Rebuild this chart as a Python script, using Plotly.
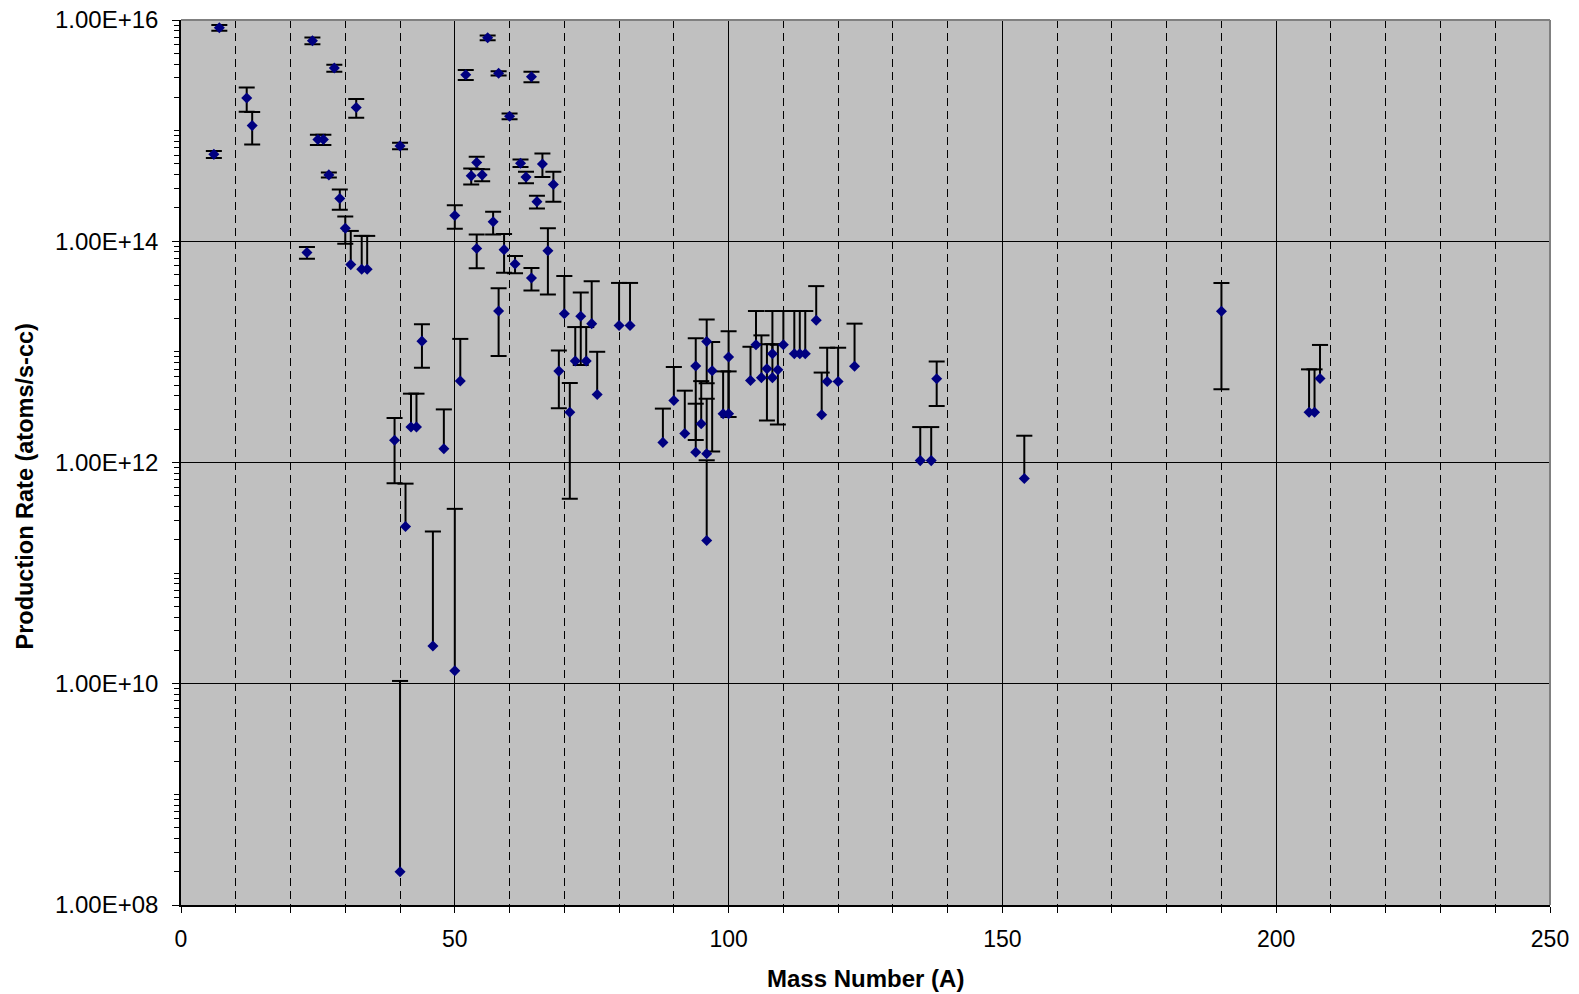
import plotly.graph_objects as go

# ---- data ----
mass = [6, 7, 12, 13, 23, 24, 25, 26, 27, 28, 29, 30, 31, 32, 33, 34,
        39, 40, 40, 41, 42, 43, 44, 46, 48, 50, 50, 51, 52, 53, 54, 54, 55, 56, 57, 58, 58, 59, 60,
        61, 62, 63, 64, 64, 65, 66, 67, 68, 69, 70, 71, 72, 73, 74, 75, 76, 80, 82,
        88, 90, 92, 94, 94, 95, 96, 96, 96, 97, 99, 100, 100,
        104, 105, 106, 107, 108, 108, 109, 110, 112, 113, 114, 116, 117, 118, 120, 123,
        135, 137, 138, 154, 190, 206, 207, 208]

rate = [6.1e14, 8.5e15, 1.97e15, 1.11e15, 7.9e13, 6.5e15, 8.3e14, 8.3e14, 3.98e14, 3.68e15, 2.43e14, 1.31e14, 6.15e13, 1.62e15, 5.58e13, 5.58e13,
        1.59e12, 7.28e14, 2.0e8, 2.64e11, 2.09e12, 2.09e12, 1.25e13, 2.19e10, 1.33e12, 1.71e14, 1.31e10, 5.45e12, 3.2e15, 3.9e14, 5.15e14, 8.6e13, 3.98e14, 6.9e15, 1.5e14, 3.3e15, 2.34e13, 8.4e13, 1.35e15,
        6.24e13, 5.08e14, 3.8e14, 3.07e15, 4.66e13, 2.28e14, 5.0e14, 8.2e13, 3.26e14, 6.7e12, 2.21e13, 2.85e12, 8.26e12, 2.1e13, 8.26e12, 1.8e13, 4.12e12, 1.73e13, 1.73e13,
        1.52e12, 3.64e12, 1.83e12, 7.45e12, 1.24e12, 2.24e12, 1.24e13, 1.2e12, 1.97e11, 6.76e12, 2.76e12, 8.98e12, 2.76e12,
        5.52e12, 1.16e13, 5.85e12, 7.05e12, 9.6e12, 5.85e12, 6.9e12, 1.16e13, 9.6e12, 9.6e12, 9.6e12, 1.93e13, 2.7e12, 5.4e12, 5.4e12, 7.4e12,
        1.04e12, 1.04e12, 5.72e12, 7.16e11, 2.33e13, 2.85e12, 2.85e12, 5.75e12]

err = [0.43e14, 0.5e15, 0.49e15, 0.36e15, 0.95e13, 0.45e15, 0.9e14, 0.9e14, 0.21e14, 0.27e15, 0.5e14, 0.36e14, 6.25e13, 0.31e15, 5.6e13, 5.6e13,
       0.94e12, 0.5e14, 1.04e10, 3.8e11, 2.1e12, 2.1e12, 0.53e13, 2.16e11, 1.69e12, 0.41e14, 3.68e11, 7.65e12, 0.33e15, 0.65e14, 0.65e14, 2.9e13, 0.5e14, 0.35e15, 0.35e14, 0.15e15, 1.42e13, 3.2e13, 0.08e15,
       1.1e13, 0.4e14, 0.45e14, 0.33e15, 1.07e13, 0.3e14, 1.2e14, 4.9e13, 0.98e14, 3.6e12, 2.64e13, 2.38e12, 8.5e12, 1.34e13, 8.5e12, 2.55e13, 5.9e12, 2.47e13, 2.47e13,
       1.55e12, 3.66e12, 2.63e12, 5.85e12, 2.16e12, 3.2e12, 0.72e13, 2.57e12, 8.5e11, 5.5e12, 3.9e12, 6.4e12, 3.9e12,
       5.6e12, 1.18e13, 8.25e12, 4.65e12, 1.38e13, 5.9e12, 4.7e12, 1.18e13, 1.38e13, 1.38e13, 1.38e13, 2.0e13, 3.8e12, 5.5e12, 5.5e12, 1.06e13,
       1.05e12, 1.05e12, 2.48e12, 1.03e12, 1.87e13, 4.1e12, 4.1e12, 5.8e12]

ytick_vals = [1e8, 1e10, 1e12, 1e14, 1e16]
ytick_text = ["1.00E+08", "1.00E+10", "1.00E+12", "1.00E+14", "1.00E+16"]
xtick_vals = [0, 50, 100, 150, 200, 250]

# ---- split error bars: two-sided vs. one-sided (lower bound <= 0 on log axis) ----
two_x, two_y, two_e = [], [], []
stem_x, stem_y, cap_x, cap_y = [], [], [], []
for m, r, e in zip(mass, rate, err):
    if e < r:
        two_x.append(m); two_y.append(r); two_e.append(e)
    else:
        stem_x += [m, m, None]
        stem_y += [r, r + e, None]
        cap_x.append(m); cap_y.append(r + e)

minor_y = [k * 10 ** n for n in range(8, 16) for k in range(1, 10) if not (k == 1 and n % 2 == 0)]

FONT = "Liberation Sans, Arial, sans-serif"

fig = go.Figure()
fig.add_trace(go.Scatter(
    x=two_x, y=two_y, mode="markers",
    marker=dict(color="rgba(0,0,0,0)", size=2),
    error_y=dict(type="data", array=two_e, symmetric=True, color="black", thickness=2, width=8),
    hoverinfo="skip", showlegend=False))
fig.add_trace(go.Scatter(
    x=stem_x, y=stem_y, mode="lines", line=dict(color="black", width=2),
    hoverinfo="skip", showlegend=False))
fig.add_trace(go.Scatter(
    x=cap_x, y=cap_y, mode="markers",
    marker=dict(symbol="line-ew", size=11.5, line=dict(color="black", width=2)),
    hoverinfo="skip", showlegend=False))
fig.add_trace(go.Scatter(
    x=mass, y=rate, mode="markers",
    marker=dict(symbol="diamond", size=8.5, color="#000080", line=dict(width=0)),
    showlegend=False))

fig.update_layout(
    width=1579, height=994,
    margin=dict(l=181, r=29, t=20, b=89, autoexpand=False),
    paper_bgcolor="white", plot_bgcolor="#C0C0C0",
    font=dict(family=FONT, size=23, color="black"),
    showlegend=False,
    xaxis=dict(
        range=[0, 250], tickmode="array", tickvals=xtick_vals,
        ticks="outside", ticklen=6, tickwidth=1, tickcolor="black",
        showline=True, linecolor="black", linewidth=1.5,
        showgrid=True, gridcolor="black", gridwidth=1,
        zeroline=False, ticklabelstandoff=7, automargin=False,
        tickfont=dict(family=FONT, size=23),
        minor=dict(dtick=10, tick0=0, ticks="outside", ticklen=6, tickcolor="black",
                   showgrid=True, gridcolor="black", gridwidth=1, griddash="8px,5px"),
    ),
    yaxis=dict(
        type="log", range=[8, 16], tickmode="array", tickvals=ytick_vals, ticktext=ytick_text,
        ticks="outside", ticklen=7, tickwidth=1, tickcolor="black",
        showline=True, linecolor="black", linewidth=1.5,
        showgrid=True, gridcolor="black", gridwidth=1,
        zeroline=False, ticklabelstandoff=9, automargin=False,
        tickfont=dict(family=FONT, size=24),
        minor=dict(tickmode="array", tickvals=minor_y, ticks="outside", ticklen=5,
                   tickcolor="black", showgrid=False),
    ),
    shapes=[
        dict(type="line", xref="paper", yref="paper", x0=0, x1=1, y0=1, y1=1,
             line=dict(color="#808080", width=2), layer="above"),
        dict(type="line", xref="paper", yref="paper", x0=1, x1=1, y0=0, y1=1,
             line=dict(color="#808080", width=2), layer="above"),
    ],
    annotations=[
        dict(text="<b>Production Rate (atoms/s-cc)</b>", xref="paper", yref="paper",
             x=-0.1143, y=0.4723, xanchor="center", yanchor="middle", textangle=-90,
             showarrow=False, font=dict(family=FONT, size=23.5, color="black")),
        dict(text="<b>Mass Number (A)</b>", xref="paper", yref="paper",
             x=0.5, y=-0.0836, xanchor="center", yanchor="middle",
             showarrow=False, font=dict(family=FONT, size=24, color="black")),
    ],
)

fig.write_html("out.html", config={"displayModeBar": False},
               post_script="document.body.style.margin='0px'; document.body.style.overflow='hidden';")
